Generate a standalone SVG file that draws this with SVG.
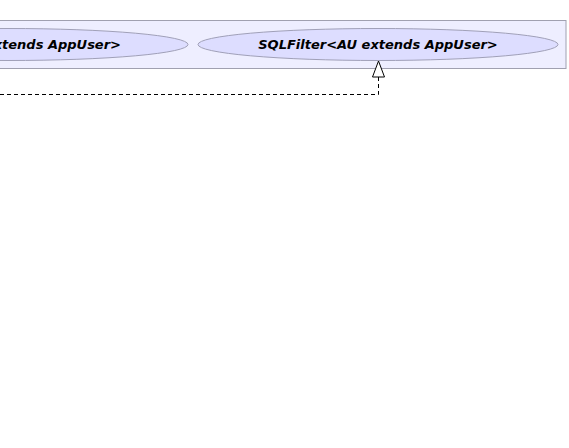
<svg xmlns="http://www.w3.org/2000/svg" width="569" height="448" viewBox="0 0 569 448">
<style>
.pkg{fill:#EEEEFF;stroke:#A0A0B0;stroke-width:1}
.uc{fill:#DDDDFF;stroke:#A0A0B8;stroke-width:1}
.lbl{font-family:"DejaVu Sans",sans-serif;font-size:13px;font-weight:bold;font-style:italic;fill:#000}
.dash{fill:none;stroke:#000;stroke-width:1;stroke-dasharray:4,3}
.head{fill:#fff;stroke:#000;stroke-width:1}
</style>
<rect width="569" height="448" fill="#fff"/>
<g id="package">
<rect class="pkg" x="-10" y="20.5" width="576" height="48"/>
</g>
<g id="node1">
<ellipse class="uc" cx="8" cy="44.5" rx="180" ry="16"/>
<text class="lbl" x="121" y="49" text-anchor="end">&lt;AU extends AppUser&gt;</text>
</g>
<g id="node2">
<ellipse class="uc" cx="378" cy="44.5" rx="180" ry="16"/>
<text class="lbl" x="378" y="49" text-anchor="middle">SQLFilter&lt;AU extends AppUser&gt;</text>
</g>
<g id="connectors">
<path class="dash" d="M0,94.5 H378.5 V77"/>
<polygon class="head" points="378.5,61 372.5,77 384.5,77"/>
</g>
</svg>
